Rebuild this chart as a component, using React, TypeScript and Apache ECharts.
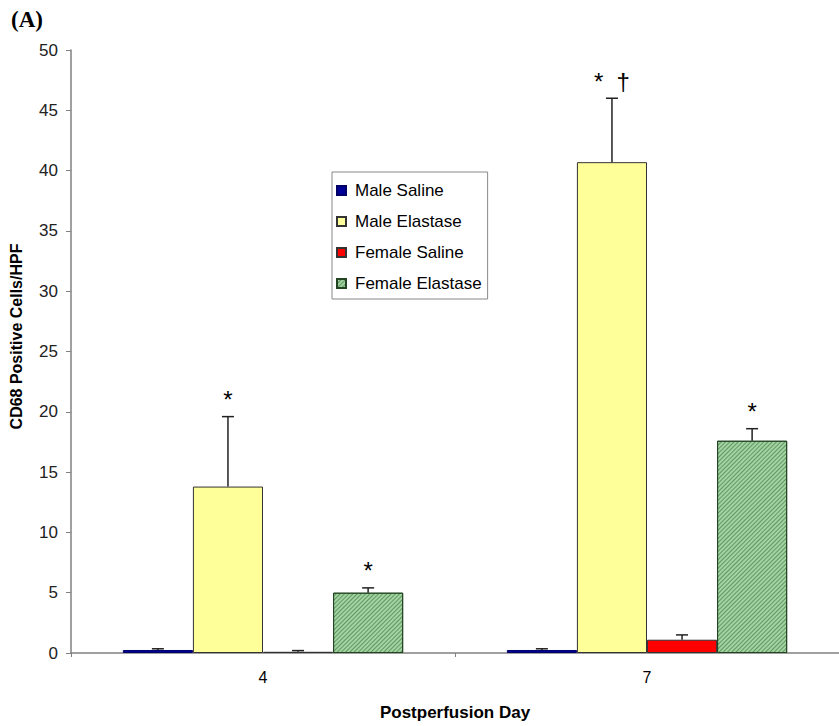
import React, { useEffect, useRef } from "react";
import * as echarts from "echarts";

const categories = ["4", "7"];
const seriesNames = ["Male Saline", "Male Elastase", "Female Saline", "Female Elastase"];
const maleSaline = [0.25, 0.25];
const maleElastase = [13.8, 40.7];
const femaleSaline = [0.1, 1.1];
const femaleElastase = [5.0, 17.6];
const maleSalineErr = [0.1, 0.1];
const maleElastaseErr = [5.8, 5.3];
const femaleSalineErr = [0.1, 0.4];
const femaleElastaseErr = [0.4, 1.0];
const maleSalineMarks = ["", ""];
const maleElastaseMarks = ["*", "*  \u2020"];
const femaleSalineMarks = ["", ""];
const femaleElastaseMarks = ["*", "*"];
const yTicks = { min: 0, max: 50, interval: 5 };

const COLORS = ["#000099", "#FFFF99", "#FF0000", "#A3D3A3"];
const BORDERS = ["#000066", "#333", "#333", "#224422"];
const BAR_CATEGORY_GAP = 0.27;

export default function App() {
  const ref = useRef<HTMLDivElement>(null);
  useEffect(() => {
    if (!ref.current) return;
    const chart = echarts.init(ref.current, null, { renderer: "svg" });
    const values = [maleSaline, maleElastase, femaleSaline, femaleElastase];
    const errs = [maleSalineErr, maleElastaseErr, femaleSalineErr, femaleElastaseErr];
    const marks = [maleSalineMarks, maleElastaseMarks, femaleSalineMarks, femaleElastaseMarks];
    const errData: any[] = [];
    values.forEach((vals, s) => {
      vals.forEach((v, c) => {
        errData.push([c, v, errs[s][c], s, marks[s][c]]);
      });
    });
    const hatch = {
      symbol: "rect",
      symbolSize: 1,
      color: "rgba(40,100,40,0.55)",
      dashArrayX: [1, 0],
      dashArrayY: [1, 2],
      rotation: -Math.PI / 4,
    };
    const font = "Liberation Sans, Arial, sans-serif";
    chart.setOption({
      animation: false,
      backgroundColor: "#fff",
      title: {
        text: "(A)",
        left: 6,
        top: 3,
        textStyle: { fontFamily: "Liberation Serif, Times New Roman, serif", fontWeight: "bold", fontSize: 23, color: "#000" },
      },
      legend: {
        data: seriesNames,
        orient: "vertical",
        left: 332,
        top: 172,
        padding: [10, 6, 7, 4],
        itemWidth: 9,
        itemHeight: 9,
        itemGap: 14,
        backgroundColor: "#fff",
        borderColor: "#888",
        borderWidth: 1,
        borderRadius: 0,
        icon: "rect",
        textStyle: { fontFamily: font, fontSize: 17, color: "#000", lineHeight: 16, padding: [0, 0, 0, 4] },
      },
      grid: { left: 71, top: 50, width: 770, height: 604 },
      xAxis: {
        type: "category",
        data: categories,
        name: "Postperfusion Day",
        nameLocation: "middle",
        nameGap: 51,
        nameTextStyle: { fontFamily: font, fontWeight: "bold", fontSize: 17, color: "#000" },
        axisLine: { lineStyle: { color: "#808080", width: 1.5 } },
        axisTick: { show: true, length: 4, lineStyle: { color: "#808080" } },
        axisLabel: { fontFamily: font, fontSize: 16, color: "#000", margin: 16 },
      },
      yAxis: {
        type: "value",
        min: yTicks.min,
        max: yTicks.max,
        interval: yTicks.interval,
        name: "CD68 Positive Cells/HPF",
        nameLocation: "middle",
        nameGap: 47,
        nameTextStyle: { fontFamily: font, fontWeight: "bold", fontSize: 16, color: "#000", padding: [0, 0, 0, 30] },
        axisLine: { show: true, lineStyle: { color: "#808080", width: 1.5 } },
        axisTick: { show: true, length: 5, lineStyle: { color: "#808080" } },
        axisLabel: { fontFamily: font, fontSize: 17, color: "#222", margin: 13 },
        splitLine: { show: false },
      },
      series: [
        ...values.map((vals, s) => ({
          type: "bar",
          name: seriesNames[s],
          data: vals,
          barGap: "0%",
          barCategoryGap: BAR_CATEGORY_GAP * 100 + "%",
          itemStyle: {
            color: COLORS[s],
            borderColor: BORDERS[s],
            borderWidth: 1,
            decal: s === 3 ? hatch : undefined,
          },
        })),
        {
          type: "custom",
          name: "errors",
          data: errData,
          encode: { x: 0, y: 1 },
          z: 5,
          renderItem: (params: any, api: any) => {
            const c = api.value(0);
            const v = api.value(1);
            const e = api.value(2);
            const s = api.value(3);
            const mark = errData[params.dataIndex][4];
            const band = api.size([1, 0])[0];
            const bw = (band * (1 - BAR_CATEGORY_GAP)) / 4;
            const base = api.coord([c, v]);
            const x = base[0] + (s - 1.5) * bw;
            const yv = base[1];
            const yt = api.coord([c, v + e])[1];
            const children: any[] = [
              { type: "line", shape: { x1: x, y1: yv, x2: x, y2: yt }, style: { stroke: "#222", lineWidth: 1.5 } },
              { type: "line", shape: { x1: x - 6, y1: yt, x2: x + 6, y2: yt }, style: { stroke: "#222", lineWidth: 1.5 } },
            ];
            if (mark) {
              children.push({
                type: "text",
                x: x,
                y: yt - 5,
                style: {
                  text: mark,
                  fontSize: 24,
                  fontFamily: font,
                  fill: "#000",
                  textAlign: "center",
                  textVerticalAlign: "bottom",
                },
              });
            }
            return { type: "group", children };
          },
        },
      ],
    });
    return () => chart.dispose();
  }, []);
  return (
    <div
      ref={ref}
      style={{ position: "absolute", left: 0, top: 0, width: 839, height: 726 }}
    />
  );
}
